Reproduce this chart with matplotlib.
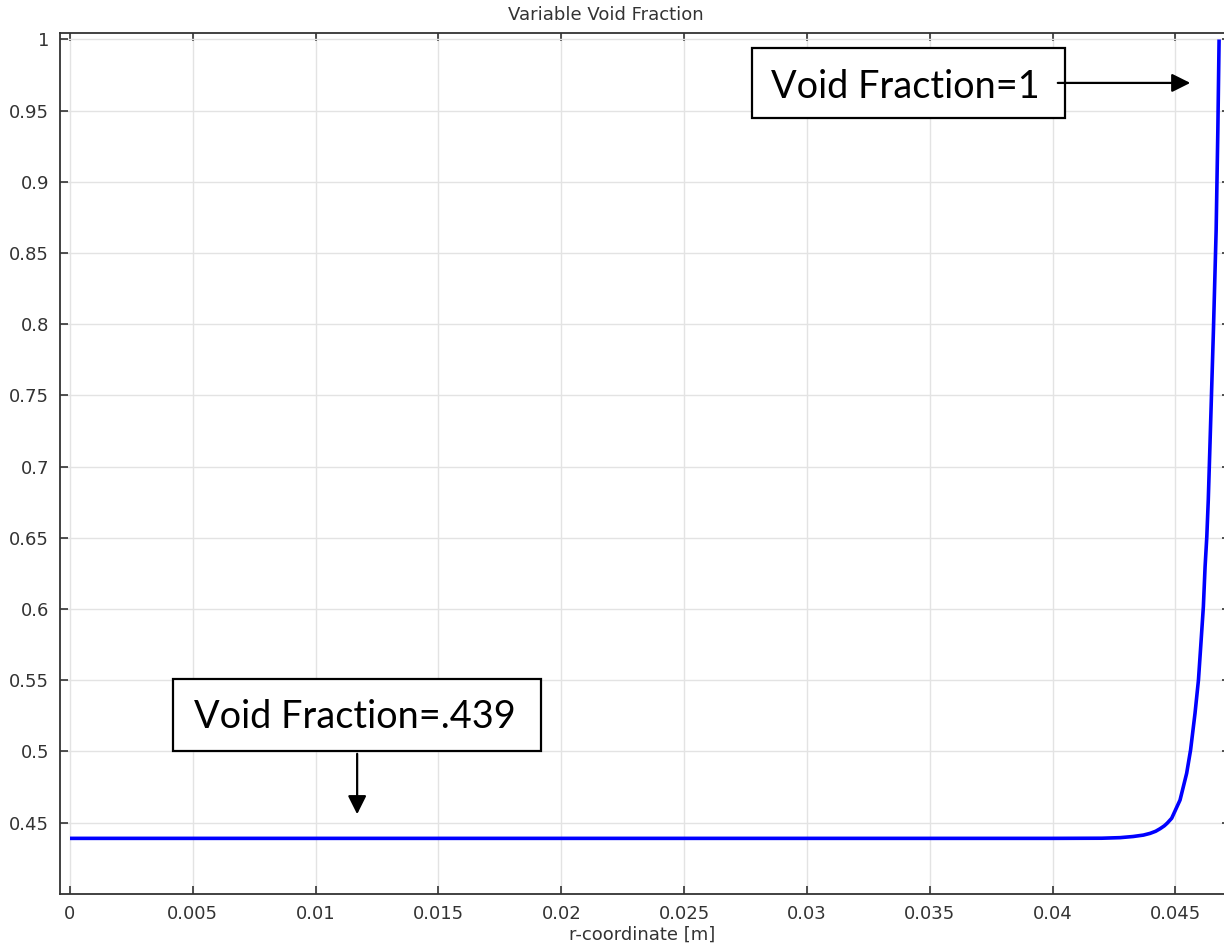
import numpy as np
import matplotlib
matplotlib.use('Agg')
import matplotlib.pyplot as plt
from matplotlib.patches import Rectangle

# r-coordinate [m] and void fraction
r = [0.0, 0.005, 0.01, 0.015, 0.02, 0.025, 0.03, 0.035, 0.04, 0.042,
     0.04275, 0.04328, 0.04370, 0.04397, 0.04420, 0.04438, 0.04455, 0.04467,
     0.04485, 0.04519, 0.04546, 0.04562, 0.04580, 0.04594, 0.04605,
     0.04614, 0.04621, 0.04628, 0.04634, 0.04641, 0.04655,
     0.04666, 0.04673, 0.04678]
eps = [0.439, 0.439, 0.439, 0.439, 0.439, 0.439, 0.439, 0.439, 0.439, 0.4391,
       0.4395, 0.4403, 0.4413, 0.4425, 0.4440, 0.4458, 0.4478, 0.4497,
       0.4531, 0.4659, 0.4847, 0.5011, 0.5268, 0.5502, 0.5783,
       0.6017, 0.6298, 0.6508, 0.6766, 0.716, 0.796,
       0.866, 0.937, 1.0]

xticks = [0, 0.005, 0.01, 0.015, 0.02, 0.025, 0.03, 0.035, 0.04, 0.045]
xticklabels = ['0', '0.005', '0.01', '0.015', '0.02', '0.025', '0.03', '0.035', '0.04', '0.045']
yticks = [0.45, 0.5, 0.55, 0.6, 0.65, 0.7, 0.75, 0.8, 0.85, 0.9, 0.95, 1.0]
yticklabels = ['0.45', '0.5', '0.55', '0.6', '0.65', '0.7', '0.75', '0.8', '0.85', '0.9', '0.95', '1']

fig = plt.figure(figsize=(12.24, 9.47), dpi=100)
ax = fig.add_axes([0.04902, 0.05597, 0.95098, 0.90919])

ax.plot(r, eps, color='#0000ff', lw=2.6, solid_capstyle='butt', solid_joinstyle='round')

ax.set_xlim(-0.000407, 0.04698)
ax.set_ylim(0.39993, 1.00456)
ax.set_xticks(xticks)
ax.set_xticklabels(xticklabels)
ax.set_yticks(yticks)
ax.set_yticklabels(yticklabels)
ax.grid(True, color='#e3e3e3', lw=1.0)
ax.set_axisbelow(True)

ax.tick_params(direction='in', length=6, width=1.2, top=True, right=True,
               labelsize=13, colors='#333333', pad=8)
# right axis sits just past the picture edge: only the tick tips show
for t in ax.yaxis.get_major_ticks():
    t.tick2line.set_markersize(1.5)
for side in ['left', 'bottom', 'top']:
    ax.spines[side].set_color('#333333')
    ax.spines[side].set_linewidth(1.3)
ax.spines['right'].set_visible(False)

ax.set_xlabel('r-coordinate [m]', fontsize=13, color='#333333', labelpad=2)
fig.text(606 / 1224, 1 - 15 / 947, 'Variable Void Fraction', fontsize=13,
         color='#333333', ha='center', va='center')

# annotation boxes
ann_font = 'Lato'
ann_size = 27.3
ax.add_patch(Rectangle((0.02777, 0.94487), 0.04051 - 0.02777, 0.99403 - 0.94487,
                       fill=True, facecolor='white', edgecolor='black', lw=1.6, zorder=4))
ax.text(0.03402, 0.9668, 'Void Fraction=1', fontsize=ann_size, family=ann_font,
        ha='center', va='center', zorder=5)
ax.annotate('', xy=(0.04572, 0.9695), xytext=(0.0401, 0.9695),
            arrowprops=dict(arrowstyle='-|>', color='black', lw=1.6, mutation_scale=28),
            zorder=5)

ax.add_patch(Rectangle((0.004193, 0.50035), 0.019176 - 0.004193, 0.55091 - 0.50035,
                       fill=True, facecolor='white', edgecolor='black', lw=1.6, zorder=4))
ax.text(0.01160, 0.5245, 'Void Fraction=.439', fontsize=ann_size, family=ann_font,
        ha='center', va='center', zorder=5)
ax.annotate('', xy=(0.01169, 0.454), xytext=(0.01169, 0.50035),
            arrowprops=dict(arrowstyle='-|>', color='black', lw=1.6, mutation_scale=28),
            zorder=5)

fig.savefig('out.png', dpi=100)
